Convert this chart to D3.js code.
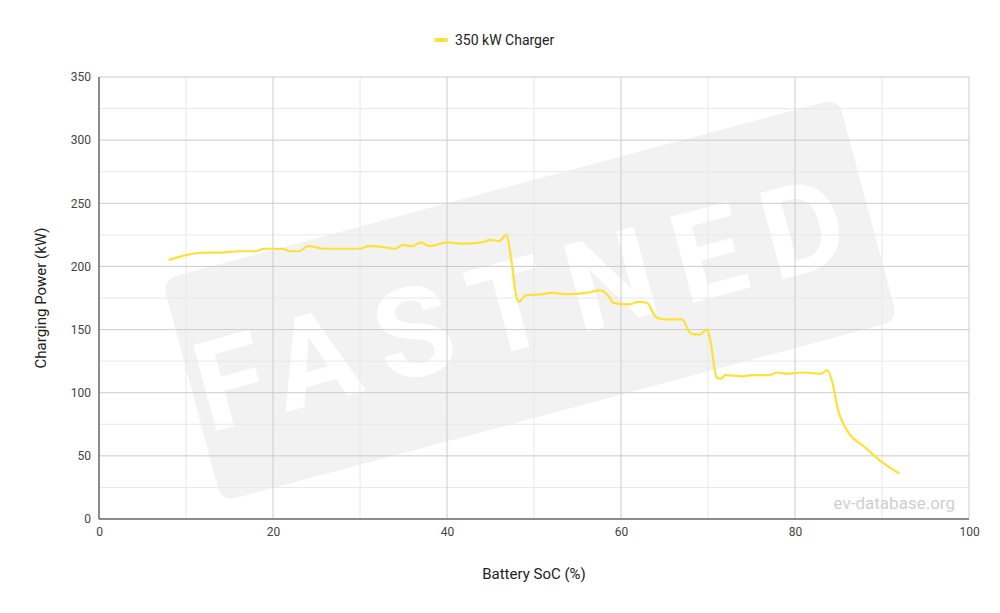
<!DOCTYPE html>
<html><head><meta charset="utf-8">
<script src="https://cdn.jsdelivr.net/npm/d3@7"></script>
<style>body{margin:0;background:#fff;font-family:Roboto,sans-serif}</style>
</head><body><svg id="chart"></svg>
<script>
const soc = [8,10,12,14,16,18,19,21,22,23,24,26,28,30,31,33,34,35,36,37,38,40,42,44,45,46,46.8,47.5,48,48.3,49,51,52,54,56,57.7,58.5,59.2,61,62,63,64,65,67,68,69,69.9,70.3,71,71.5,72,74,75,77,78,79,81,83,83.7,84.3,85,86,88,90,92];
const power = [205,209,211,211,212,212,214,214,212,212,216,214,214,214,216,215,214,217,216,219,216,219,218,219,221,220,225,200,175,172,177,178,179,178,179,181,177,171,170,172,171,160,158,158,147,146,150,140,112,111,114,113,114,114,116,115,116,115,118,108,85,70,57,45,36];
const xTicks = [0,20,40,60,80,100];
const yTicks = [0,50,100,150,200,250,300,350];
const seriesName = "350 kW Charger";

const width = 1000, height = 613;
const m = {left: 99, right: 31, top: 77, bottom: 94};
const svg = d3.select("#chart").attr("width", width).attr("height", height);

const x = d3.scaleLinear().domain([0, 100]).range([m.left, width - m.right]);
const y = d3.scaleLinear().domain([0, 350]).range([height - m.bottom, m.top]);

// watermark (behind grid)
const wm = svg.append("g").attr("transform", "translate(530,300) rotate(-15)");
wm.append("rect").attr("x", -350).attr("y", -115).attr("width", 700).attr("height", 230)
  .attr("rx", 14).attr("fill", "#f2f2f2");
wm.append("text").attr("text-anchor", "middle").attr("dy", "0.36em")
  .attr("font-size", 125).attr("font-weight", 700).attr("letter-spacing", 22)
  .attr("fill", "#fff").text("FASTNED");

// minor grid
svg.append("g").selectAll("line").data(d3.range(10, 100, 20)).join("line")
  .attr("x1", d => x(d)).attr("x2", d => x(d)).attr("y1", y(0)).attr("y2", y(350))
  .attr("stroke", "#e8e8e8");
svg.append("g").selectAll("line").data(d3.range(25, 350, 50)).join("line")
  .attr("y1", d => y(d)).attr("y2", d => y(d)).attr("x1", x(0)).attr("x2", x(100))
  .attr("stroke", "#e8e8e8");
// major grid
svg.append("g").selectAll("line").data(xTicks).join("line")
  .attr("x1", d => x(d)).attr("x2", d => x(d)).attr("y1", y(0)).attr("y2", y(350))
  .attr("stroke", "#cccccc");
svg.append("g").selectAll("line").data(yTicks).join("line")
  .attr("y1", d => y(d)).attr("y2", d => y(d)).attr("x1", x(0)).attr("x2", x(100))
  .attr("stroke", "#cccccc");

// axes
const xAxis = svg.append("g").attr("transform", `translate(0,${y(0)})`)
  .call(d3.axisBottom(x).tickValues(xTicks).tickSize(0).tickPadding(8));
const yAxis = svg.append("g").attr("transform", `translate(${x(0)},0)`)
  .call(d3.axisLeft(y).tickValues(yTicks).tickSize(0).tickPadding(8));
[xAxis, yAxis].forEach(a => {
  a.select(".domain").remove();
  a.selectAll("text").attr("font-size", 12).attr("fill", "#444").attr("font-family", "Roboto");
});
svg.append("line").attr("x1", x(0)).attr("x2", x(100)).attr("y1", y(0)).attr("y2", y(0)).attr("stroke", "#333");
svg.append("line").attr("x1", x(0)).attr("x2", x(0)).attr("y1", y(0)).attr("y2", y(350)).attr("stroke", "#333");

svg.append("text").attr("x", (x(0) + x(100)) / 2).attr("y", 579).attr("text-anchor", "middle")
  .attr("font-size", 15).attr("fill", "#222").text("Battery SoC (%)");
svg.append("text").attr("transform", `translate(46,${(y(0) + y(350)) / 2}) rotate(-90)`)
  .attr("text-anchor", "middle").attr("font-size", 15).attr("fill", "#222").text("Charging Power (kW)");

svg.append("text").attr("x", 955).attr("y", 509).attr("text-anchor", "end")
  .attr("font-size", 17).attr("fill", "#cfcfcf").text("ev-database.org");

// line
const line = d3.line().x((d, i) => x(soc[i])).y(d => y(d)).curve(d3.curveMonotoneX);
svg.append("path").datum(power).attr("d", line).attr("fill", "none")
  .attr("stroke", "#fde03a").attr("stroke-width", 2.2);

// legend
svg.append("line").attr("x1", 436).attr("x2", 446).attr("y1", 40).attr("y2", 40)
  .attr("stroke", "#fde03a").attr("stroke-width", 4).attr("stroke-linecap", "round");
svg.append("text").attr("x", 455).attr("y", 45).attr("font-size", 14).attr("fill", "#222").text(seriesName);
</script></body></html>
